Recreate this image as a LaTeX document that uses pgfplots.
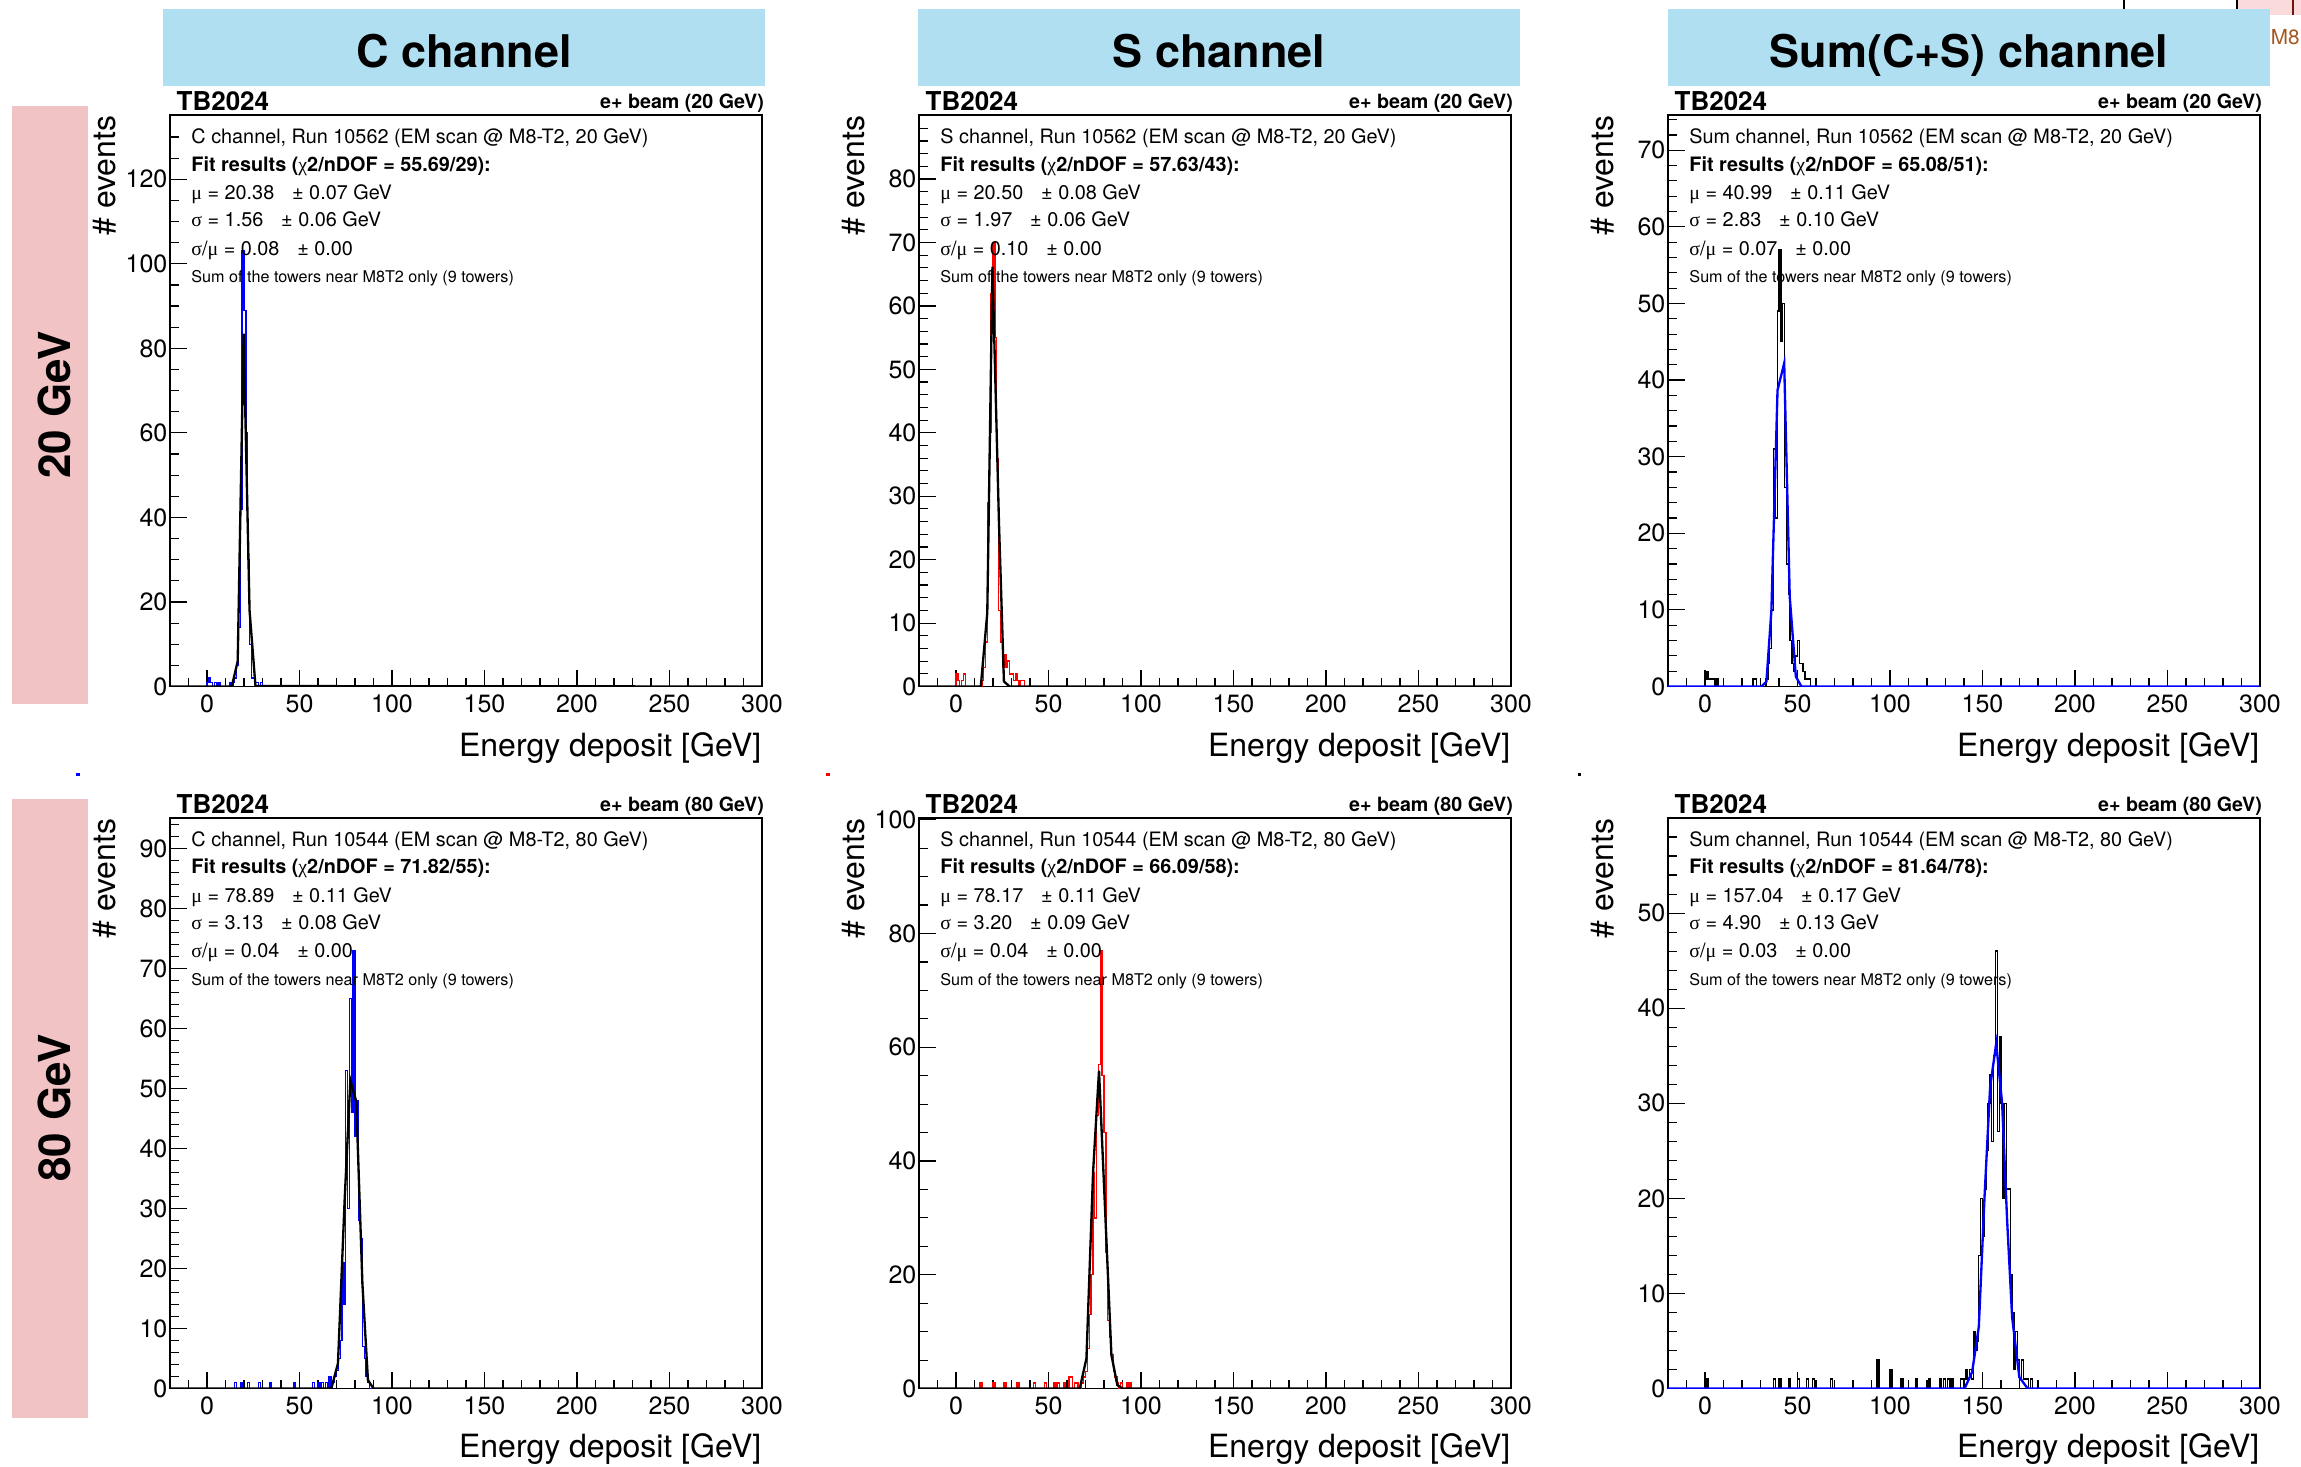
\documentclass[border=0pt]{standalone}
\usepackage{pgfplots}
\pgfplotsset{compat=1.18}
\usepackage{fontspec}
\setmainfont{TeX Gyre Heros}
\newfontfamily\grk{Liberation Serif}
\definecolor{hdrblue}{RGB}{176,223,242}
\definecolor{bandpink}{RGB}{242,195,196}
\definecolor{lpink}{RGB}{250,218,218}
\definecolor{dred}{RGB}{110,20,20}
\definecolor{brownM}{RGB}{165,85,30}

\pgfplotsset{
  rootax/.style={
    scale only axis, width=177.6pt,
    xmin=-20, xmax=300, ymin=0,
    tick pos=left, tick align=inside,
    xtick={0,50,...,300}, minor xtick={-10,0,...,300},
    major tick length=5.1pt, minor tick length=2.6pt,
    every tick/.style={black, line width=0.35pt},
    axis line style={line width=0.35pt},
    ticklabel style={font=\fontsize{7.5}{9}\selectfont},
    yticklabel style={inner xsep=0.6pt},
    xticklabel style={inner ysep=2.2pt},
    /pgf/number format/assume math mode=true,
    scaled ticks=false,
    xlabel={Energy deposit [GeV]}, ylabel={\# events},
    label style={font=\fontsize{9.6}{11}\selectfont},
    xlabel style={at={(axis description cs:1,-0.1216)}, anchor=base east, inner sep=0pt},
    ylabel style={at={(axis description cs:-0.0929,1)}, anchor=base east, inner sep=0pt},
    clip mode=individual,
  },
  hist/.style={const plot mark left, line width=0.4pt, no marks},
  fit/.style={sharp plot, line width=0.7pt, no marks},
}

\newcommand{\info}[8]{%
 \node[anchor=base west,inner sep=0pt,font=\bfseries\fontsize{7.8}{9}\selectfont] at (axis description cs:0.0101,1.00875) {TB2024};
 \node[anchor=base east,inner sep=0pt,font=\bfseries\fontsize{5.9}{7}\selectfont] at (axis description cs:1.0042,1.0112) {e+ beam (#8 GeV)};
 \node[anchor=base west,inner sep=0pt,font=\fontsize{5.95}{7}\selectfont] at (axis description cs:0.0351,0.9505) {#1};
 \node[anchor=base west,inner sep=0pt,font=\bfseries\fontsize{5.95}{7}\selectfont] at (axis description cs:0.0351,0.9020) {Fit results ({\grk\mdseries χ}2/nDOF = #2):};
 \node[anchor=base west,inner sep=0pt,font=\fontsize{5.95}{7}\selectfont] at (axis description cs:0.0351,0.8525) {{\grk μ} = #3\hspace{0.9em}± #4 GeV};
 \node[anchor=base west,inner sep=0pt,font=\fontsize{5.95}{7}\selectfont] at (axis description cs:0.0351,0.8045) {{\grk σ} = #5\hspace{0.9em}± #6 GeV};
 \node[anchor=base west,inner sep=0pt,font=\fontsize{5.95}{7}\selectfont] at (axis description cs:0.0351,0.7550) {{\grk σ}/{\grk μ} = #7\hspace{0.9em}± 0.00};
 \node[anchor=base west,inner sep=0pt,font=\fontsize{4.85}{6}\selectfont] at (axis description cs:0.0351,0.7066) {Sum of the towers near M8T2 only (9 towers)};
}

\begin{document}
\begin{tikzpicture}
\useasboundingbox (0,0) rectangle (690.3pt,-439.8pt);
\fill[white] (0,0) rectangle (690.3pt,-439.8pt);
\begin{scope}
\clip (0,0) rectangle (690.3pt,-439.8pt);
% top-right cut-off elements
\draw[black, line width=0.7pt, fill=white] (637.2pt,1pt) rectangle (671.1pt,-4.0pt);
\fill[lpink] (671.4pt,1pt) rectangle (692pt,-4.35pt);
\draw[dred, line width=0.5pt] (687.9pt,1pt) -- (687.9pt,-4.35pt);
\end{scope}
\node[anchor=base east, inner sep=0pt, text=brownM, font=\fontsize{6.2}{7}\selectfont] at (690.1pt,-13.2pt) {M8};
% header boxes
\fill[hdrblue] (48.9pt,-2.7pt) rectangle (229.5pt,-25.65pt);
\fill[hdrblue] (275.4pt,-2.7pt) rectangle (456pt,-25.65pt);
\fill[hdrblue] (500.4pt,-2.7pt) rectangle (681pt,-25.65pt);
\node[anchor=base, inner sep=0pt, font=\bfseries\fontsize{13.5}{15}\selectfont] at (139.2pt,-20.1pt) {C channel};
\node[anchor=base, inner sep=0pt, font=\bfseries\fontsize{13.5}{15}\selectfont] at (365.7pt,-20.1pt) {S channel};
\node[anchor=base, inner sep=0pt, font=\bfseries\fontsize{13.5}{15}\selectfont] at (590.7pt,-20.1pt) {Sum(C+S) channel};
% pink bands
\fill[bandpink] (3.45pt,-31.7pt) rectangle (26.4pt,-211.3pt);
\fill[bandpink] (3.45pt,-239.55pt) rectangle (26.4pt,-425.3pt);
\node[rotate=90, anchor=base, inner sep=0pt, font=\bfseries\fontsize{13.2}{15}\selectfont] at (21pt,-121.5pt) {20 GeV};
\node[rotate=90, anchor=base, inner sep=0pt, font=\bfseries\fontsize{13.2}{15}\selectfont] at (21pt,-332.4pt) {80 GeV};
% stray marks
\fill[blue] (22.8pt,-231.9pt) rectangle (24pt,-232.8pt);
\fill[red] (247.8pt,-231.9pt) rectangle (249pt,-232.8pt);
\fill[black] (473.4pt,-231.9pt) rectangle (474.4pt,-232.8pt);

% ---------------- Panel 1 : C channel 20 GeV
\begin{axis}[rootax, at={(51pt,-205.95pt)}, anchor=south west, height=171.45pt,
  ymax=135.2, ytick={0,20,...,120}, minor ytick={0,5,...,135}]
\addplot[hist, blue] coordinates {(-20,0) (0,1) (1,2) (2,1) (3,0) (4,1) (5,0) (6,1) (7,0) (12,1) (13,0) (14,1) (15,2) (16,5) (17,14) (18,42) (19,103) (20,89) (21,60) (22,30) (23,10) (24,2) (25,2) (26,1) (27,1) (28,0) (29,1) (30,0) (300,0)};
\addplot[fit, black] coordinates {(-20,0) (13.4,0) (16.6,6) (19.8,83.5) (23.0,18) (26.2,0.1) (300,0)};
\info{C channel, Run 10562 (EM scan @ M8-T2, 20 GeV)}{55.69/29}{20.38}{0.07}{1.56}{0.06}{0.08}{20}
\end{axis}

% ---------------- Panel 2 : S channel 20 GeV
\begin{axis}[rootax, at={(275.7pt,-205.95pt)}, anchor=south west, height=171.45pt,
  ymax=90.1, ytick={0,10,...,80}, minor ytick={0,2,...,90}]
\addplot[hist, red] coordinates {(-20,0) (0,2) (1,1) (2,0) (3,1) (4,2) (5,0) (14,1) (15,3) (16,7) (17,29) (18,40) (19,62) (20,70) (21,55) (22,36) (23,12) (24,7) (25,3) (26,5) (27,3) (28,4) (29,2) (30,2) (31,1) (32,2) (33,1) (34,0) (35,1) (36,1) (37,0) (300,0)};
\addplot[fit, black] coordinates {(-20,0) (13.4,0) (16.9,11.6) (19.7,66.2) (23.2,26) (25.9,0.8) (29,0) (300,0)};
\info{S channel, Run 10562 (EM scan @ M8-T2, 20 GeV)}{57.63/43}{20.50}{0.08}{1.97}{0.06}{0.10}{20}
\end{axis}

% ---------------- Panel 3 : Sum channel 20 GeV
\begin{axis}[rootax, at={(500.4pt,-205.95pt)}, anchor=south west, height=171.45pt,
  ymax=74.6, ytick={0,10,...,70}, minor ytick={0,2,...,74}]
\addplot[hist, black] coordinates {(-20,0) (0,1) (1,2) (2,1) (3,1) (4,1) (5,0) (6,1) (7,0) (26,1) (27,1) (28,0) (33,1) (34,3) (35,5) (36,10) (37,31) (38,22) (39,49) (40,57) (41,45) (42,50) (43,26) (44,16) (45,12) (46,6) (47,3) (48,2) (49,4) (50,6) (51,3) (52,3) (53,2) (54,1) (55,1) (56,1) (57,0) (300,0)};
\addplot[fit, blue] coordinates {(-20,0) (30.5,0) (33.2,0.65) (35.9,10) (39.2,38.7) (42.8,42.2) (45.8,11.7) (49.1,1.3) (52.1,0) (300,0)};
\info{Sum channel, Run 10562 (EM scan @ M8-T2, 20 GeV)}{65.08/51}{40.99}{0.11}{2.83}{0.10}{0.07}{20}
\end{axis}

% ---------------- Panel 4 : C channel 80 GeV
\begin{axis}[rootax, at={(51pt,-416.55pt)}, anchor=south west, height=171.15pt,
  ymax=95.1, ytick={0,10,...,90}, minor ytick={0,2,...,94}]
\addplot[hist, blue] coordinates {(-20,0) (15,1) (16,0) (18,1) (19,0) (22,1) (23,0) (28,1) (29,0) (34,1) (35,0) (47,1) (48,0) (57,1) (58,0) (60,1) (61,0) (62,1) (63,0) (64,1) (65,0) (66,2) (67,0) (68,1) (69,2) (70,3) (71,5) (72,8) (73,21) (74,14) (75,53) (76,30) (77,65) (78,46) (79,73) (80,42) (81,48) (82,28) (83,25) (84,7) (85,5) (86,2) (87,1) (88,0) (300,0)};
\addplot[fit, black] coordinates {(-20,0) (67.2,0) (70.8,4.2) (74.4,31.4) (77.5,51.4) (80.7,47.8) (84.0,17.5) (87.0,1.4) (90,0) (300,0)};
\info{C channel, Run 10544 (EM scan @ M8-T2, 80 GeV)}{71.82/55}{78.89}{0.11}{3.13}{0.08}{0.04}{80}
\end{axis}

% ---------------- Panel 5 : S channel 80 GeV
\begin{axis}[rootax, at={(275.7pt,-416.55pt)}, anchor=south west, height=171.15pt,
  ymax=100.3, ytick={0,20,...,100}, minor ytick={0,5,...,100}]
\addplot[hist, red] coordinates {(-20,0) (13,1) (14,0) (20,1) (21,0) (26,1) (27,0) (33,1) (34,0) (42,1) (43,0) (48,1) (49,0) (53,1) (54,0) (55,1) (56,0) (58,1) (59,0) (61,2) (62,2) (63,0) (64,1) (65,1) (66,0) (68,1) (69,2) (70,3) (71,7) (72,13) (73,20) (74,38) (75,30) (76,48) (77,57) (78,77) (79,55) (80,45) (81,24) (82,12) (83,9) (84,6) (85,3) (86,2) (87,1) (88,0) (89,1) (90,0) (92,1) (93,0) (94,1) (95,0) (300,0)};
\addplot[fit, black] coordinates {(-20,0) (66.9,0) (70.5,5.3) (74.1,38.1) (77.3,55.9) (80.4,32.8) (84.0,5.9) (87.2,0.6) (90,0) (300,0)};
\info{S channel, Run 10544 (EM scan @ M8-T2, 80 GeV)}{66.09/58}{78.17}{0.11}{3.20}{0.09}{0.04}{80}
\end{axis}

% ---------------- Panel 6 : Sum channel 80 GeV
\begin{axis}[rootax, at={(500.4pt,-416.55pt)}, anchor=south west, height=171.15pt,
  ymax=60, ytick={0,10,...,50}, minor ytick={0,2,...,60}]
\addplot[hist, black] coordinates {(-20,0) (1,1) (2,0) (37,1) (38,0) (40,1) (41,0) (45,1) (46,0) (50,1) (51,0) (55,1) (56,0) (58,1) (59,0) (68,1) (69,0) (93,3) (94,0) (100,2) (101,0) (106,1) (107,0) (114,1) (115,0) (121,1) (122,0) (127,1) (128,0) (129,1) (130,0) (131,1) (132,0) (133,1) (134,0) (138,1) (139,1) (140,1) (141,2) (142,1) (143,2) (144,1) (145,6) (146,4) (147,5) (148,14) (149,20) (150,16) (151,21) (152,25) (153,30) (154,33) (155,26) (156,35) (157,46) (158,27) (159,37) (160,30) (161,20) (162,30) (163,21) (164,21) (165,12) (166,8) (167,2) (168,6) (169,3) (170,1) (171,3) (172,1) (173,1) (174,1) (175,0) (176,1) (177,0) (300,0)};
\addplot[fit, blue] coordinates {(-20,0) (140.3,0) (144.4,1.75) (148.0,6.5) (151.1,20.2) (154.1,31.7) (157.4,36.3) (160.6,30.0) (163.3,17.7) (166.0,7.5) (169.9,1.2) (174.4,0) (300,0)};
\info{Sum channel, Run 10544 (EM scan @ M8-T2, 80 GeV)}{81.64/78}{157.04}{0.17}{4.90}{0.13}{0.03}{80}
\end{axis}
\end{tikzpicture}
\end{document}
